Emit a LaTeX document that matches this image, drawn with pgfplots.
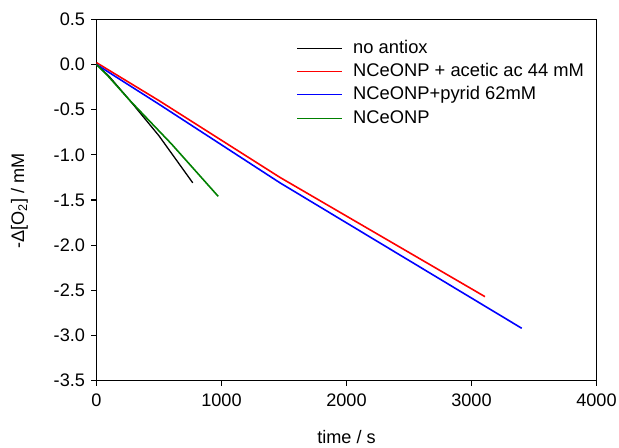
\documentclass[border=0pt]{standalone}
\usepackage{pgfplots}
\pgfplotsset{compat=1.18}
\usepackage{fontspec}
\setmainfont{Liberation Sans}
\definecolor{sgreen}{RGB}{0,128,0}
\begin{document}
\begin{tikzpicture}
\begin{axis}[
  scale only axis, width=500bp, height=361.4bp,
  at={(0,0)}, anchor=south west,
  xmin=0, xmax=4000, ymin=-3.5, ymax=0.5,
  xtick={0,1000,2000,3000,4000},
  ytick={-3.5,-3,-2.5,-2,-1.5,-1,-0.5,0,0.5},
  tick align=outside, tick pos=left,
  major tick length=5bp,
  axis line style={line width=1.1pt},
  tick style={line width=1.1pt, black},
  /pgf/number format/assume math mode=true,
  yticklabel style={xshift=-3bp, /pgf/number format/fixed, /pgf/number format/fixed zerofill, /pgf/number format/precision=1},
  xticklabel style={yshift=-5bp, /pgf/number format/fixed, /pgf/number format/1000 sep={}},
  tick label style={font=\fontsize{18.2}{21}\selectfont},
  xlabel={time / s},
  ylabel={-Δ[O\textsubscript{2}] / mM},
  xlabel style={font=\fontsize{18.2}{21}\selectfont, at={(axis description cs:0.5,-0.155)}, anchor=center},
  ylabel style={font=\fontsize{18.2}{21}\selectfont, at={(axis description cs:-0.154,0.497)}, anchor=center},
  legend style={at={(0.401,0.9516)}, anchor=north west, draw=none, fill=none,
    inner sep=0pt, outer sep=0pt,
    nodes={inner xsep=0pt, inner ysep=3bp, text height=13.5bp, text depth=3.5bp},
    font=\fontsize{18.4}{21}\selectfont, row sep=0.3bp},
  legend cell align=left,
  legend image code/.code={\draw[#1, line width=0.9pt] (0bp,0bp) -- (45bp,0bp); \path (55bp,0bp);},
]
\addplot[black, line width=1.3pt] coordinates {(0,0) (100,-0.13) (268,-0.40) (500,-0.79) (770,-1.31)};
\addlegendentry{no antiox}
\addplot[red, line width=1.6pt] coordinates {(0,0.02) (500,-0.40) (1468,-1.25) (3108,-2.57)};
\addlegendentry{NCeONP + acetic ac 44 mM}
\addplot[blue, line width=1.6pt] coordinates {(0,0) (500,-0.44) (1468,-1.31) (3402,-2.92)};
\addlegendentry{NCeONP+pyrid 62mM}
\addplot[sgreen, line width=1.6pt] coordinates {(0,0) (100,-0.14) (268,-0.40) (600,-0.88) (974,-1.46)};
\addlegendentry{NCeONP}
\end{axis}
\pgfresetboundingbox
\path[use as bounding box] (-96.5bp,-67.3bp) rectangle (522.5bp,380.7bp);
\end{tikzpicture}
\end{document}
